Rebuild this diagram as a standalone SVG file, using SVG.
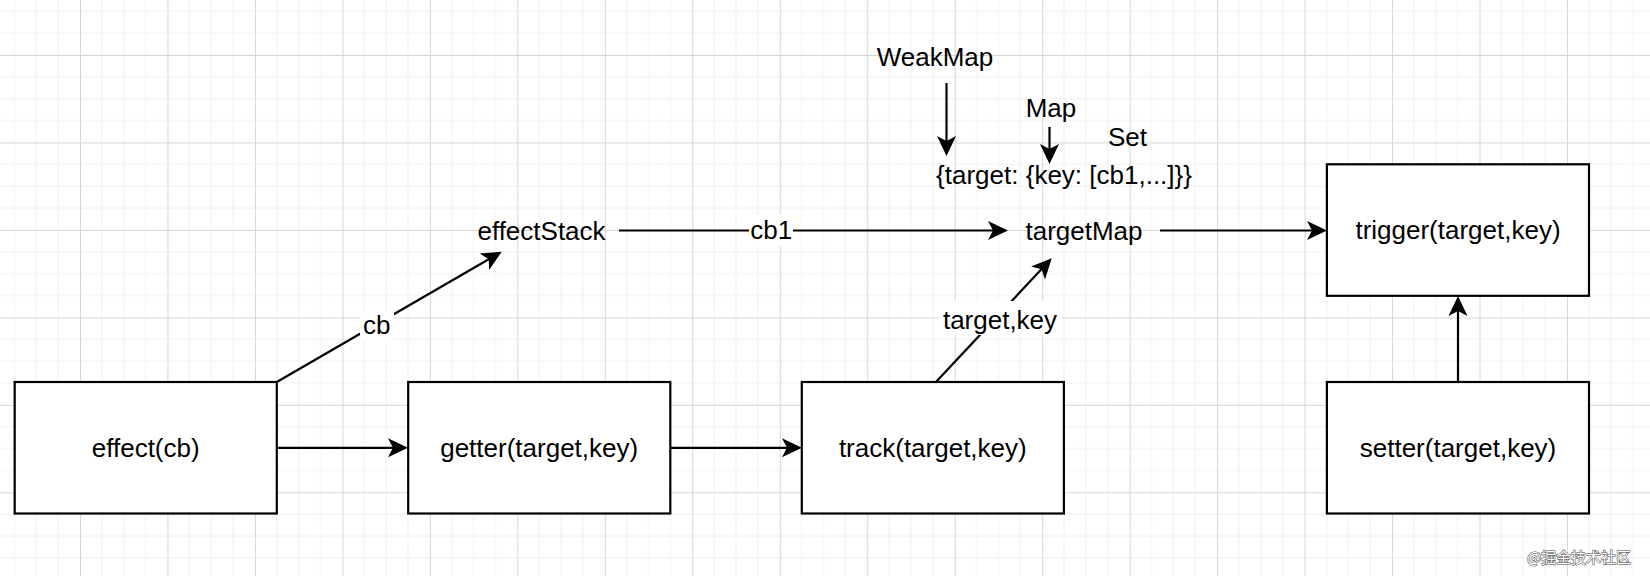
<svg xmlns="http://www.w3.org/2000/svg" width="1650" height="576" viewBox="0 0 1650 576">
<defs>
<pattern id="grid" x="80" y="55" width="87.47" height="87.47" patternUnits="userSpaceOnUse">
<path d="M21.87,0 V87.47 M43.73,0 V87.47 M65.6,0 V87.47 M0,21.87 H87.47 M0,43.73 H87.47 M0,65.6 H87.47" stroke="#efefef" stroke-width="1" fill="none"/>
<path d="M0.5,0 V87.47 M0,0.5 H87.47" stroke="#d6d6d6" stroke-width="1" fill="none"/>
</pattern>
<marker id="arr" viewBox="-22 -11 24 22" refX="-10" refY="0" markerWidth="24" markerHeight="22" orient="auto" markerUnits="userSpaceOnUse">
<path d="M-20,-9.5 L0,0 L-20,9.5 L-15,0 Z" fill="#000"/>
</marker>
</defs>
<style>
.box{fill:#fff;stroke:#000;stroke-width:2.2}
.t{font-family:"Liberation Sans",Arial,sans-serif;font-size:26px;fill:#000;text-anchor:middle}
.c{fill:none;stroke:#000;stroke-width:2.2;marker-end:url(#arr)}
.lbg{fill:#fff}
</style>
<rect width="1650" height="576" fill="#fff"/>
<rect width="1650" height="576" fill="url(#grid)"/>

<g id="connectors">
<line class="c" x1="946.5" y1="83" x2="946.5" y2="146"/>
<line class="c" x1="1049.5" y1="127" x2="1049.5" y2="154"/>
<line class="c" x1="619" y1="230.5" x2="998" y2="230.5"/>
<line class="c" x1="1160" y1="230.5" x2="1317" y2="230.5"/>
<line class="c" x1="276.8" y1="382" x2="493.05" y2="256.7"/>
<line class="c" x1="276.8" y1="447.8" x2="398" y2="447.8"/>
<line class="c" x1="670.3" y1="447.8" x2="792" y2="447.8"/>
<line class="c" x1="935" y1="383" x2="1044.9" y2="265.6"/>
<line class="c" x1="1458" y1="382" x2="1458" y2="306"/>
<rect class="lbg" x="749" y="214" width="44" height="32"/>
<text class="t" x="771.3" y="239">cb1</text>
<rect class="lbg" x="360" y="313" width="34" height="28"/>
<text class="t" x="376.7" y="333.5">cb</text>
<rect class="lbg" x="939" y="301" width="122" height="34"/>
<text class="t" x="1000" y="328.5">target,key</text>
</g>

<g id="weakmap"><text class="t" x="935" y="66">WeakMap</text></g>
<g id="map"><text class="t" x="1051" y="117">Map</text></g>
<g id="set"><text class="t" x="1127.5" y="146">Set</text></g>
<g id="structure"><text class="t" x="1064" y="183.5">{target: {key: [cb1,...]}}</text></g>
<g id="effectStack"><text class="t" x="541.5" y="240">effectStack</text></g>
<g id="targetMap"><text class="t" x="1084" y="240">targetMap</text></g>

<g id="effect"><rect class="box" x="14.7" y="382" width="262.1" height="131.5"/><text class="t" x="145.7" y="457">effect(cb)</text></g>
<g id="getter"><rect class="box" x="408.2" y="382" width="262.1" height="131.5"/><text class="t" x="539.2" y="457">getter(target,key)</text></g>
<g id="track"><rect class="box" x="801.8" y="382" width="262.1" height="131.5"/><text class="t" x="932.8" y="457">track(target,key)</text></g>
<g id="setter"><rect class="box" x="1326.9" y="382" width="262.1" height="131.5"/><text class="t" x="1458" y="457">setter(target,key)</text></g>
<g id="trigger"><rect class="box" x="1326.9" y="164.3" width="262.1" height="131.5"/><text class="t" x="1458" y="239">trigger(target,key)</text></g>

<text x="1579" y="563" font-family="'Noto Sans CJK SC',sans-serif" font-size="15" text-anchor="middle" fill="#fff" stroke="#444" stroke-width="1" paint-order="stroke">@掘金技术社区</text>
</svg>
